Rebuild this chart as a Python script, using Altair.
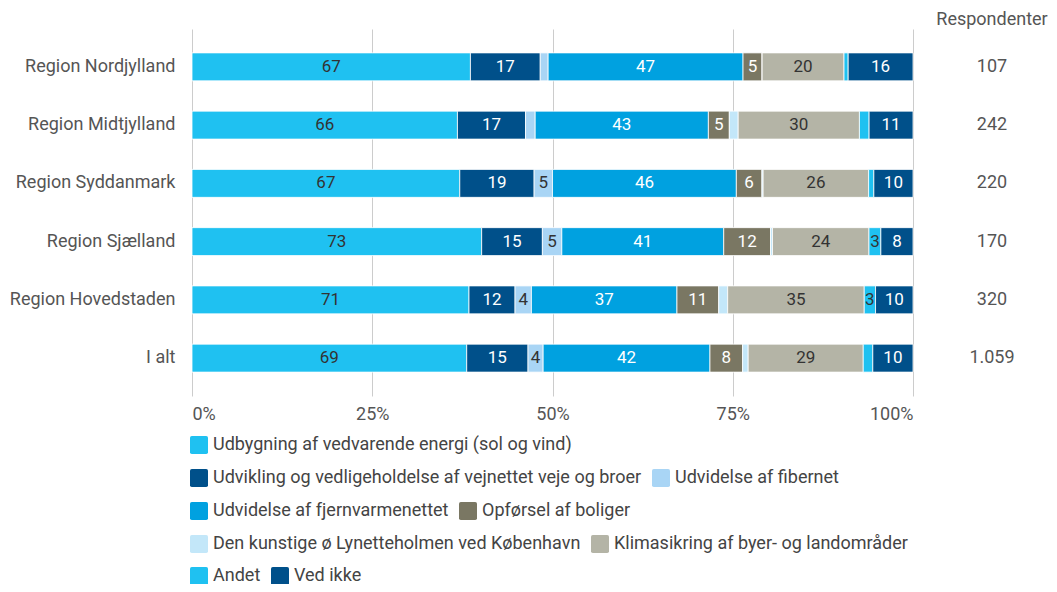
import altair as alt
import pandas as pd

regions = ["Region Nordjylland", "Region Midtjylland", "Region Syddanmark",
           "Region Sjælland", "Region Hovedstaden", "I alt"]
categories = [
    "Udbygning af vedvarende energi (sol og vind)",
    "Udvikling og vedligeholdelse af vejnettet veje og broer",
    "Udvidelse af fibernet",
    "Udvidelse af fjernvarmenettet",
    "Opførsel af boliger",
    "Den kunstige ø Lynetteholmen ved København",
    "Klimasikring af byer- og landområder",
    "Andet",
    "Ved ikke",
]
colors = ["#1fc1f1", "#00508a", "#a9d5f5", "#00a1e0", "#7a7763",
          "#c3e7f9", "#b4b4a6", "#1fc1f1", "#00508a"]
dark_categories = [categories[1], categories[3], categories[4], categories[8]]

respondents = [107, 242, 220, 170, 320, 1059]

udbygning = [67.0, 65.9, 67.0, 73.0, 71.0, 69.0]
udvikling = [16.8, 16.9, 18.6, 15.3, 11.8, 15.4]
fibernet = [1.9, 2.4, 4.6, 4.9, 4.2, 3.8]
fjernvarme = [46.9, 43.0, 46.0, 40.8, 37.3, 41.9]
boliger = [4.6, 5.2, 6.4, 11.8, 10.7, 8.2]
lynetteholmen = [0.0, 2.2, 0.3, 0.5, 2.3, 1.4]
klima = [19.7, 30.1, 26.4, 24.3, 35.0, 28.9]
andet = [1.0, 2.4, 1.3, 3.0, 2.9, 2.4]
ved_ikke = [15.6, 10.9, 9.8, 8.1, 9.6, 10.1]

series = [udbygning, udvikling, fibernet, fjernvarme, boliger,
          lynetteholmen, klima, andet, ved_ikke]

# legend rows as laid out in the reference (indices into categories)
legend_rows = [[0], [1, 2], [3, 4], [5, 6], [7, 8]]

rows = []
for ci, (cat, vals) in enumerate(zip(categories, series)):
    for ri, reg in enumerate(regions):
        rows.append({"region": reg, "cat": cat, "value": vals[ri], "order": ci})
df = pd.DataFrame(rows)

resp_df = pd.DataFrame({
    "region": regions,
    "n": [f"{v:,}".replace(",", ".") for v in respondents],
})
header_df = pd.DataFrame({"t": ["Respondenter"]})

font = "Roboto"
rounded = "M-0.8,-1H0.8Q1,-1,1,-0.8V0.8Q1,1,0.8,1H-0.8Q-1,1,-1,0.8V-0.8Q-1,-1,-0.8,-1Z"

base = alt.Chart(df).transform_stack(
    stack="value", groupby=["region"], as_=["x0", "x1"],
    sort=[alt.SortField("order", order="ascending")], offset="normalize"
)

y_enc = alt.Y(
    "region:N", sort=regions,
    scale=alt.Scale(paddingInner=0.52, paddingOuter=0.41),
    axis=alt.Axis(title=None, ticks=False, domain=False, labelFont=font,
                  labelFontSize=18, labelColor="#555", labelPadding=17,
                  labelLimit=400),
)

bars = base.mark_bar(stroke="white", strokeWidth=0.8).encode(
    y=y_enc,
    x=alt.X("x0:Q", scale=alt.Scale(domain=[0, 1]),
            axis=alt.Axis(title=None, values=[0, 0.25, 0.5, 0.75, 1], format="%",
                          grid=True, gridColor="#cccccc", domain=False, ticks=False,
                          labelFlush=True, labelFont=font, labelFontSize=18,
                          labelColor="#555", labelPadding=9)),
    x2="x1:Q",
    color=alt.Color("cat:N", scale=alt.Scale(domain=categories, range=colors),
                    legend=None),
)

labels = base.transform_calculate(
    mid="(datum.x0 + datum.x1) / 2"
).transform_filter("round(datum.value) >= 3").mark_text(
    font=font, fontSize=17
).encode(
    y=alt.Y("region:N", sort=regions),
    x=alt.X("mid:Q"),
    text=alt.Text("value:Q", format=".0f"),
    color=alt.condition(
        alt.FieldOneOfPredicate(field="cat", oneOf=dark_categories),
        alt.value("white"), alt.value("#333333"),
    ),
)

resp = alt.Chart(resp_df).mark_text(font=font, fontSize=18, color="#555").encode(
    y=alt.Y("region:N", sort=regions),
    x=alt.value(800),
    text="n:N",
)

header = alt.Chart(header_df).mark_text(font=font, fontSize=18, color="#555").encode(
    x=alt.value(800),
    y=alt.value(-9),
    text="t:N",
)

legend_y = [407, 440, 473, 506, 538]
legend_layers = []
for row, ly in zip(legend_rows, legend_y):
    dom = [categories[i] for i in row]
    rng = [colors[i] for i in row]
    legend_layers.append(
        alt.Chart(df).transform_filter("false").mark_bar().encode(
            color=alt.Color(
                "cat:N",
                scale=alt.Scale(domain=dom, range=rng),
                legend=alt.Legend(
                    title=None, orient="none", legendX=-2, legendY=ly,
                    direction="horizontal",
                    labelFont=font, labelFontSize=18, labelColor="#444",
                    labelLimit=800, symbolType=rounded, symbolSize=324,
                    symbolStrokeWidth=0, symbolOpacity=1, columnPadding=10,
                    labelOffset=5, padding=0,
                ),
            )
        )
    )

chart = alt.layer(bars, labels, resp, header, *legend_layers).resolve_scale(
    color="independent"
).properties(
    width=721, height=367,
    autosize=alt.AutoSizeParams(type="none"),
    padding={"left": 184, "top": 21, "right": 136, "bottom": 188},
).configure_view(strokeWidth=0)

chart.save("out.html", embed_options={"renderer": "svg", "actions": False})
